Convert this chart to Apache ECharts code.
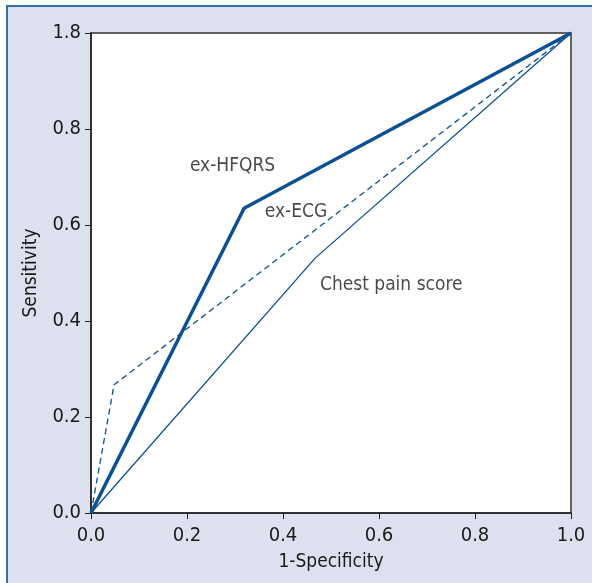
<!DOCTYPE html>
<html><head><meta charset="utf-8">
<script src="https://cdn.jsdelivr.net/npm/echarts@6/dist/echarts.min.js"></script>
<style>
html,body{margin:0;padding:0;background:#fff;}
#frame{position:absolute;left:6px;top:5px;width:586px;height:578px;background:#dde0ee;border-top:2px solid #3a6ea8;border-left:2px solid #3a6ea8;box-sizing:border-box;}
#chart{position:absolute;left:0;top:0;width:592px;height:583px;}
</style></head>
<body><div id="frame"></div><div id="chart"></div>
<script>
const xTickLabels = ['0.0','0.2','0.4','0.6','0.8','1.0'];
const yTickLabels = ['0.0','0.2','0.4','0.6','0.8','1.8'];
const hfqrsX = [0, 0.319, 1];
const hfqrsY = [0, 0.635, 1];
const ecgX = [0, 0.048, 1];
const ecgY = [0, 0.267, 1];
const chestX = [0, 0.467, 1];
const chestY = [0, 0.531, 1];
const labelNames = ['ex-HFQRS','ex-ECG','Chest pain score'];
const labelX = [0.206, 0.362, 0.477];
const labelY = [0.723, 0.627, 0.475];

const zip = (a,b)=>a.map((v,i)=>[v,b[i]]);
const font = "'DejaVu Sans Condensed','Liberation Sans Narrow',sans-serif";
const blue = '#0b4f95';
const ink = '#1a1a1a';
const chart = echarts.init(document.getElementById('chart'));
chart.setOption({
  animation:false,
  grid:{left:91,top:33,width:480,height:480,show:true,backgroundColor:'#fff',borderColor:'#333',borderWidth:1.5},
  xAxis:{type:'value',min:0,max:1,interval:0.2,
    name:'1-Specificity',nameLocation:'middle',nameGap:40,
    nameTextStyle:{fontFamily:font,fontSize:19,color:ink},
    axisLine:{lineStyle:{color:'#222',width:1.5}},
    axisTick:{show:true,inside:false,length:6,lineStyle:{color:'#222'}},
    splitLine:{show:false},
    axisLabel:{fontFamily:font,fontSize:20,color:ink,margin:13,
      formatter:(v)=>xTickLabels[Math.round(v/0.2)]}},
  yAxis:{type:'value',min:0,max:1,interval:0.2,
    name:'Sensitivity',nameLocation:'middle',nameGap:50,
    nameTextStyle:{fontFamily:font,fontSize:19,color:ink},
    axisLine:{lineStyle:{color:'#222',width:1.5}},
    axisTick:{show:true,inside:false,length:6,lineStyle:{color:'#222'}},
    splitLine:{show:false},
    axisLabel:{fontFamily:font,fontSize:20,color:ink,margin:10,
      formatter:(v)=>yTickLabels[Math.round(v/0.2)]}},
  series:[
    {type:'line',data:zip(chestX,chestY),symbol:'none',lineStyle:{color:blue,width:1.3}},
    {type:'line',data:zip(ecgX,ecgY),symbol:'none',lineStyle:{color:blue,width:1.3,type:[6,4]}},
    {type:'line',data:zip(hfqrsX,hfqrsY),symbol:'none',lineStyle:{color:blue,width:3.5}},
    {type:'scatter',symbolSize:0,silent:true,
      data:labelNames.map((n,i)=>({value:[labelX[i],labelY[i]],name:n})),
      label:{show:true,position:'right',distance:0,formatter:(p)=>p.name,
        fontFamily:font,fontSize:19,color:ink}}
  ]
});
</script></body></html>
